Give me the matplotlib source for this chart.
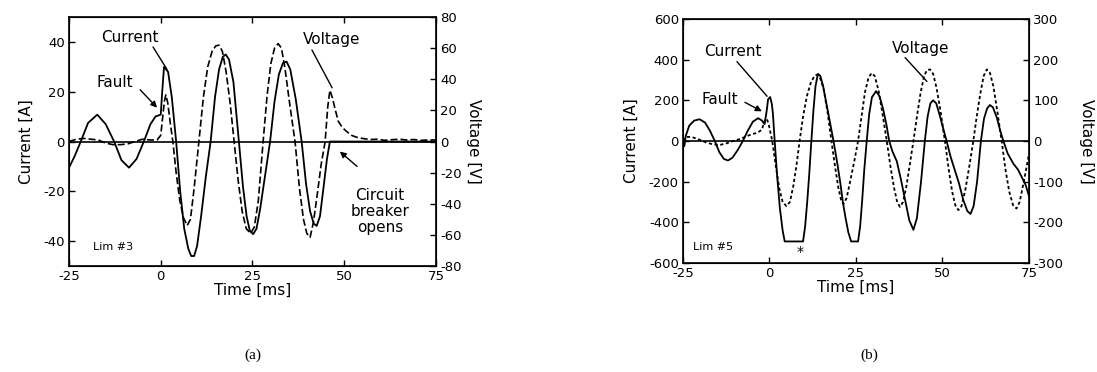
import numpy as np
import matplotlib
matplotlib.use("Agg")
import matplotlib.pyplot as plt

#values

#panel (a), Lim #3
t_cur_a = [-25, -23.5, -21.8, -19.8, -17.3, -15.0, -12.7, -10.7, -8.65, -6.6, -4.6, -2.8, -1.4, 0, 0.4, 0.9,
           2.0, 3.0, 4.2, 5.3, 6.4, 7.5, 8.3, 9.1, 9.9, 11.0, 12.3, 13.6, 14.8, 15.9, 16.9, 17.7, 18.6, 19.8,
           21.3, 22.4, 23.4, 24.3, 25.2, 26.1, 27.1, 28.4, 29.8, 31.0, 32.2, 33.3, 34.3, 35.3, 36.8, 38.4,
           39.6, 40.7, 41.7, 42.5, 43.4, 44.4, 45.3, 46.1, 75]
cur_a = [-10.5, -6, 0, 7.5, 10.8, 7, 0, -7.5, -10.5, -7, 0, 7, 10.1, 10.8, 20, 30,
         28, 18, 0, -20, -35, -43, -46, -46, -42, -30, -14, 0, 18, 29, 34, 35, 33, 24,
         0, -18, -30, -36, -37.2, -35, -27, -14, 0, 16, 27, 31.5, 32.1, 29, 17, 0,
         -17, -28, -33, -33.9, -30, -18, -7, 0, 0]

t_volt_a = [-25, -23, -21, -19, -17, -15, -13, -11, -9, -7, -5, -3, -1, 0, 0.5, 1.0, 1.4, 1.9, 2.6, 3.3,
            4.2, 5.2, 6.2, 7.2, 8.1, 9.1, 10.4, 11.6, 12.8, 14.0, 15.0, 15.9, 16.8, 17.8, 18.9, 20.0,
            21.1, 22.2, 23.3, 24.5, 25.5, 26.6, 27.9, 29.0, 30.0, 31.0, 32.0, 32.9, 33.8, 35.1, 36.6,
            37.8, 38.9, 39.8, 40.7, 41.6, 42.6, 43.7, 44.8, 45.5, 46.1, 46.8, 47.6, 48.4, 49.5, 50.6,
            52.0, 53.3, 55, 57, 59, 61, 63, 65, 67, 69, 71, 73, 75]
volt_a = [0, 1.5, 2, 1.5, 1, -1, -2, -2, -1.5, 0, 1.5, 1, 1, 4, 15, 26, 30, 25, 12, 0,
          -20, -38, -49, -54, -50, -30, 0, 28, 48, 58, 61.5, 62, 58, 45, 25, 0,
          -25, -45, -56, -59, -55, -38, 0, 30, 50, 60, 63, 60, 48, 25, 0,
          -30, -50, -59, -61.6, -52, -35, -15, 0, 22, 33, 28, 20, 13, 9, 6.6,
          4, 2.8, 2, 1.3, 1.5, 0.8, 1.2, 1.5, 1, 1.3, 0.8, 1, 1]

#panel (b), Lim #5
t_cur_b = [-25, -24.6, -24.2, -23.2, -21.8, -20.2, -18.6, -17.2, -15.8, -14.5, -13.2, -12.0, -10.7, -9.2,
           -7.7, -6.3, -4.8, -3.3, -2.3, -1.4, -0.8, -0.4, 0.2, 0.7, 1.0, 1.5, 2.2, 3.0, 3.8, 4.4, 9.7,
           10.3, 10.9, 11.5, 12.1, 12.7, 13.3, 14.0, 14.7, 15.5, 16.5, 17.5, 18.5, 19.6, 20.5, 21.2, 22.0,
           22.8, 23.6, 25.6, 26.2, 26.8, 27.4, 28.1, 28.8, 29.6, 30.8, 31.8, 32.8, 33.8, 34.6, 35.5, 36.8,
           38.0, 39.2, 40.4, 41.6, 42.6, 43.8, 44.9, 45.7, 46.5, 47.3, 48.2, 49.3, 50.3, 51.2, 52.3, 53.5,
           54.8, 56.0, 57.2, 58.1, 59.0, 60.0, 61.1, 62.0, 62.9, 63.7, 64.6, 65.7, 66.7, 67.6, 68.8, 70.5,
           71.8, 72.9, 74.0, 75]
cur_b = [0, -25, 25, 75, 100, 107, 90, 50, 0, -55, -88, -96, -82, -45,
         0, 50, 95, 112, 102, 83, 150, 205, 216, 180, 132, 0, -170, -330, -440, -494, -494,
         -420, -300, -160, 0, 150, 270, 330, 320, 270, 180, 90, 0, -110, -210, -300, -380,
         -450, -494, -494, -420, -290, -140, 0, 130, 215, 245, 220, 160, 80, 0, -50, -100,
         -190, -290, -390, -437, -380, -200, 0, 120, 185, 200, 185, 120, 55, 0, -75, -140,
         -210, -290, -345, -359, -320, -200, 0, 110, 160, 177, 165, 115, 50, 0, -60, -112,
         -140, -177, -215, -270]

t_volt_b = [-25, -24, -22.5, -20.5, -18.5, -16.5, -14.5, -12.5, -10.5, -8.5, -6.5, -5, -3.5, -2.2, -1.4,
            -0.8, -0.2, 0.8, 1.8, 2.8, 3.8, 4.9, 5.9, 6.9, 7.8, 8.7, 9.7, 10.8, 12.0, 13.0, 13.7, 14.5,
            15.6, 16.8, 17.9, 18.9, 19.9, 20.7, 21.4, 22.3, 23.3, 24.5, 25.6, 26.6, 27.6, 28.6, 29.5,
            30.4, 31.5, 32.7, 33.9, 35.0, 36.0, 36.9, 37.7, 38.6, 39.6, 40.6, 41.6, 42.7, 43.7, 44.7,
            45.5, 46.4, 47.3, 48.3, 49.5, 50.7, 51.8, 52.8, 53.7, 54.6, 55.5, 56.6, 57.8, 58.9, 59.9,
            60.9, 61.9, 62.8, 63.7, 64.7, 65.9, 67.1, 68.2, 69.3, 70.4, 71.4, 72.3, 73.5, 75]
volt_b = [0, 10, 10, 4, -3, -8, -10, -6, 0, 5, 12, 17, 20, 28, 50,
          55, 40, 0, -60, -115, -150, -160, -150, -110, -60, 0, 60, 110, 145, 160, 163, 158,
          130, 70, 0, -60, -115, -145, -155, -140, -100, -50, 0, 60, 120, 155, 167,
          160, 125, 65, 0, -65, -115, -150, -162, -150, -110, -55, 0, 65, 120, 160,
          174, 176, 165, 130, 70, 0, -70, -125, -158, -170, -160, -120, -60, 0, 60,
          115, 160, 176, 168, 135, 70, 0, -70, -125, -158, -166, -150, -100, -32]

time_ticks = [-25, 0, 25, 50, 75]
cur_ticks_a = [-40, -20, 0, 20, 40]
volt_ticks_a = [-80, -60, -40, -20, 0, 20, 40, 60, 80]
cur_ticks_b = [-600, -400, -200, 0, 200, 400, 600]
volt_ticks_b = [-300, -200, -100, 0, 100, 200, 300]

plt.rcParams['font.family'] = ['DejaVu Sans']
plt.rcParams['axes.unicode_minus'] = False
plt.rcParams['xtick.direction'] = 'in'
plt.rcParams['ytick.direction'] = 'in'

fig = plt.figure(figsize=(10.97, 3.72), dpi=100)
ax_a = fig.add_axes([0.0629, 0.285, 0.3345, 0.669])
ax_b = fig.add_axes([0.6226, 0.293, 0.3154, 0.656])

def setup_axes(ax, cur_lim, cur_ticks, volt_lim, volt_ticks, vpad):
    """
    sets up the left current axis and returns the twin voltage axis
    """
    ax.set_xlim(-25, 75)
    ax.set_ylim(-cur_lim, cur_lim)
    ax.set_xticks(time_ticks)
    ax.set_yticks(cur_ticks)
    ax.tick_params(labelsize=9.5, length=4, width=1, top=True, pad=3)
    ax.set_xlabel('Time [ms]', fontsize=11, labelpad=0)
    ax.set_ylabel('Current [A]', fontsize=11, labelpad=7)
    for sp in ax.spines.values():
        sp.set_linewidth(1.2)
    ax.axhline(0, color='black', lw=1.2)
    axv = ax.twinx()
    axv.set_ylim(-volt_lim, volt_lim)
    axv.set_yticks(volt_ticks)
    axv.tick_params(labelsize=9.5, length=4, width=1, pad=3)
    axv.set_ylabel('Voltage [V]', fontsize=11, rotation=-90, labelpad=vpad)
    return axv

#panel a
av_a = setup_axes(ax_a, 50, cur_ticks_a, 80, volt_ticks_a, 14)
ax_a.plot(t_cur_a, cur_a, color='black', lw=1.3)
av_a.plot(t_volt_a, volt_a, color='black', lw=1.2, dashes=(4.2, 1.8))

ax_a.text(-8.4, 42, 'Current', fontsize=11, ha='center', va='center')
ax_a.annotate('', xy=(1.7, 29), xytext=(-2.1, 38),
              arrowprops=dict(arrowstyle='-', color='black', lw=1, shrinkA=0, shrinkB=0))
ax_a.text(-12.5, 23.6, 'Fault', fontsize=11, ha='center', va='center')
ax_a.annotate('', xy=(-1.0, 13.6), xytext=(-5.6, 20.8),
              arrowprops=dict(arrowstyle='-|>', color='black', lw=1, mutation_scale=9, shrinkA=0, shrinkB=0))
ax_a.text(46.7, 41.2, 'Voltage', fontsize=11, ha='center', va='center')
ax_a.annotate('', xy=(46.7, 21.6), xytext=(41.2, 36.8),
              arrowprops=dict(arrowstyle='-', color='black', lw=1, shrinkA=0, shrinkB=0))
ax_a.text(59.7, -28, 'Circuit\nbreaker\nopens', fontsize=11, ha='center', va='center', linespacing=1.1)
ax_a.annotate('', xy=(48.8, -4), xytext=(53.5, -10),
              arrowprops=dict(arrowstyle='-|>', color='black', lw=1, mutation_scale=9, shrinkA=0, shrinkB=0))
ax_a.text(-18.5, -42.4, 'Lim #3', fontsize=8, ha='left', va='center')

#panel b
av_b = setup_axes(ax_b, 600, cur_ticks_b, 300, volt_ticks_b, 22)
ax_b.plot(t_cur_b, cur_b, color='black', lw=1.3)
av_b.plot(t_volt_b, volt_b, color='black', lw=1.3, dashes=(1.8, 1.4))

ax_b.text(-10.5, 439, 'Current', fontsize=11, ha='center', va='center')
ax_b.annotate('', xy=(-0.7, 220), xytext=(-9.4, 390),
              arrowprops=dict(arrowstyle='-', color='black', lw=1, shrinkA=0, shrinkB=0))
ax_b.text(-14.3, 205, 'Fault', fontsize=11, ha='center', va='center')
ax_b.annotate('', xy=(-2.2, 146), xytext=(-7.1, 190),
              arrowprops=dict(arrowstyle='-|>', color='black', lw=1, mutation_scale=9, shrinkA=0, shrinkB=0))
ax_b.text(43.8, 454, 'Voltage', fontsize=11, ha='center', va='center')
ax_b.annotate('', xy=(45.5, 293), xytext=(39.2, 410),
              arrowprops=dict(arrowstyle='-', color='black', lw=1, shrinkA=0, shrinkB=0))
ax_b.text(-22.1, -522, 'Lim #5', fontsize=8, ha='left', va='center')
ax_b.text(8.8, -545, '*', fontsize=10, ha='center', va='center')

fig.text(0.2306, 0.046, '(a)', fontsize=11, family='Liberation Serif', ha='center', va='center')
fig.text(0.792, 0.046, '(b)', fontsize=11, family='Liberation Serif', ha='center', va='center')

fig.savefig('out.png', dpi=100)
